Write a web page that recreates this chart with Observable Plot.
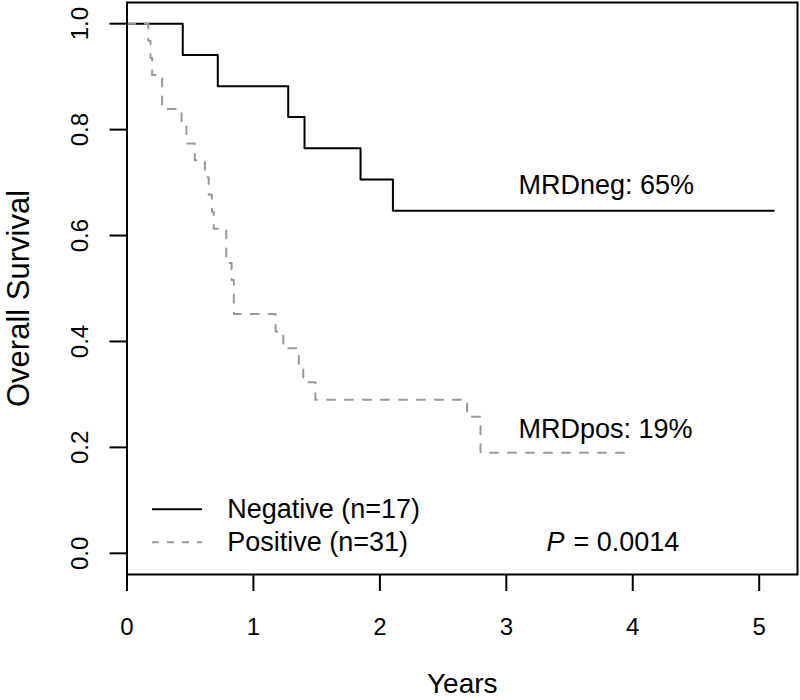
<!DOCTYPE html>
<html>
<head>
<meta charset="utf-8">
<script src="https://cdn.jsdelivr.net/npm/d3@7"></script>
<script src="https://cdn.jsdelivr.net/npm/@observablehq/plot@0.6"></script>
<style>
  html, body { margin: 0; padding: 0; background: white; }
</style>
</head>
<body>
<div id="chart"></div>
<script>
// ---- data ----
const negTime = [0, 0.441, 0.718, 1.275, 1.404, 1.847, 2.103, 5.115];
const negSurv = [1, 0.941, 0.882, 0.824, 0.765, 0.706, 0.647, 0.647];

const posTime = [0, 0.168, 0.186, 0.199, 0.278, 0.431, 0.47, 0.536, 0.616, 0.646, 0.672, 0.686,
                 0.785, 0.827, 0.845, 1.175, 1.236, 1.359, 1.394, 1.49, 2.69, 2.796, 4.007];
const posSurv = [1, 0.968, 0.935, 0.903, 0.839, 0.806, 0.774, 0.742, 0.710, 0.677, 0.645, 0.613,
                 0.548, 0.516, 0.452, 0.419, 0.387, 0.355, 0.323, 0.290, 0.258, 0.19, 0.19];

const groupLabels = ["Negative (n=17)", "Positive (n=31)"];
const endLabels = ["MRDneg: 65%", "MRDpos: 19%"];
const pSymbol = "P";
const pValue = "= 0.0014";
const xTicks = [0, 1, 2, 3, 4, 5];
const yTicks = [0, 0.2, 0.4, 0.6, 0.8, 1.0];
const xTitle = "Years";
const yTitle = "Overall Survival";

// ---- layout (positions in data units) ----
const endLabelX = [3.096, 3.096];
const endLabelY = [0.6775, 0.2168];
const legendLineX1 = 0.198, legendLineX2 = 0.593, legendTextX = 0.7925;
const legendY = [0.083, 0.021];
const pX = 3.318, pValX = 3.531;

const negRows = negTime.map((t, i) => ({t, s: negSurv[i]}));
const posRows = posTime.map((t, i) => ({t, s: posSurv[i]}));
const legendRows = groupLabels.map((label, i) => ({label, y: legendY[i], i}));
const endRows = endLabels.map((label, i) => ({label, x: endLabelX[i], y: endLabelY[i]}));

const gray = "#999999";
const font = "'Liberation Sans', Arial, Helvetica, sans-serif";

const chart = Plot.plot({
  width: 800,
  height: 700,
  marginLeft: 126.5,
  marginRight: 3,
  marginTop: 2,
  marginBottom: 126,
  style: {fontFamily: font, background: "white", color: "black"},
  x: {domain: [0, 5.303], label: null},
  y: {domain: [-0.04, 1.04], label: null},
  marks: [
    Plot.axisX({ticks: xTicks, tickSize: 17, tickPadding: 26, fontSize: 24, strokeWidth: 2,
                tickFormat: d => String(d), label: null}),
    Plot.axisY({ticks: yTicks, tickSize: 17, strokeWidth: 2, tickFormat: () => "", label: null}),
    Plot.text(yTicks, {y: d => d, frameAnchor: "left", dx: -39.5, rotate: -90,
                       text: d => d.toFixed(1), textAnchor: "middle", lineAnchor: "bottom", fontSize: 24}),
    Plot.text([yTitle], {frameAnchor: "left", dx: -98.5, dy: 10, rotate: -90, text: d => d,
                         textAnchor: "middle", lineAnchor: "bottom", fontSize: 31}),
    Plot.text([xTitle], {frameAnchor: "bottom", dy: 118, text: d => d,
                         lineAnchor: "bottom", fontSize: 28}),
    Plot.line(negRows, {x: "t", y: "s", curve: "step-after", stroke: "black", strokeWidth: 2}),
    Plot.line(posRows, {x: "t", y: "s", curve: "step-after", stroke: gray, strokeWidth: 2,
                        strokeDasharray: "8,10"}),
    Plot.text(endRows, {x: "x", y: "y", text: "label", textAnchor: "start", lineAnchor: "bottom", fontSize: 27}),
    Plot.link(legendRows.slice(0, 1), {x1: () => legendLineX1, x2: () => legendLineX2, y1: "y", y2: "y",
                                       stroke: "black", strokeWidth: 2}),
    Plot.link(legendRows.slice(1), {x1: () => legendLineX1, x2: () => legendLineX2, y1: "y", y2: "y",
                                    stroke: gray, strokeWidth: 2, strokeDasharray: "7,8"}),
    Plot.text(legendRows, {x: () => legendTextX, y: "y", text: "label", textAnchor: "start",
                           lineAnchor: "middle", fontSize: 27}),
    Plot.text([pSymbol], {x: () => pX, y: () => legendY[1], text: d => d, textAnchor: "start",
                          lineAnchor: "middle", fontSize: 27, fontStyle: "italic"}),
    Plot.text([pValue], {x: () => pValX, y: () => legendY[1], text: d => d, textAnchor: "start",
                         lineAnchor: "middle", fontSize: 27}),
    Plot.frame({stroke: "black", strokeWidth: 2})
  ]
});
document.getElementById("chart").appendChild(chart);
</script>
</body>
</html>
